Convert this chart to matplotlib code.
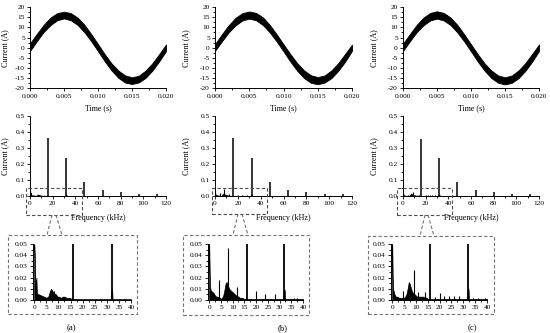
import numpy as np
import matplotlib
matplotlib.use("Agg")
import matplotlib.pyplot as plt
from matplotlib.patches import Rectangle
from matplotlib.lines import Line2D
from matplotlib.ticker import AutoMinorLocator, FormatStrFormatter

plt.rcParams['font.family'] = ['Liberation Serif', 'DejaVu Serif']
plt.rcParams['axes.unicode_minus'] = False

# time axis of the current waveform (s)
t = [0.000, 0.001, 0.002, 0.003, 0.004, 0.005, 0.006, 0.007, 0.008, 0.009, 0.010,
     0.011, 0.012, 0.013, 0.014, 0.015, 0.016, 0.017, 0.018, 0.019, 0.020]

# upper / lower edge of the ripple band (A)
wave_hi_a = [2.2, 6.8, 11.2, 14.8, 17.0, 17.7, 17.0, 14.8, 11.3, 6.7, 1.8,
             -3.2, -7.7, -11.2, -13.6, -14.5, -13.7, -11.2, -7.6, -3.1, 1.6]
wave_lo_a = [-1.6, 3.2, 7.7, 11.1, 13.5, 14.4, 13.5, 11.2, 7.6, 3.2, -1.7,
             -6.7, -11.2, -14.8, -17.1, -17.8, -17.0, -14.8, -11.2, -6.7, -1.6]
wave_hi_b = [1.8, 6.6, 11.1, 14.7, 17.0, 17.8, 17.1, 14.9, 11.2, 6.6, 1.7,
             -3.1, -7.6, -11.1, -13.5, -14.4, -13.6, -11.1, -7.5, -3.0, 1.5]
wave_lo_b = [-1.5, 3.1, 7.6, 11.0, 13.4, 14.3, 13.5, 11.1, 7.5, 3.1, -1.8,
             -6.8, -11.3, -14.9, -17.2, -17.9, -17.1, -14.9, -11.3, -6.8, -1.5]
wave_hi_c = [2.0, 6.7, 11.2, 14.8, 17.1, 17.9, 17.1, 14.8, 11.2, 6.6, 1.7,
             -3.2, -7.7, -11.2, -13.6, -14.5, -13.6, -11.1, -7.5, -3.0, 1.6]
wave_lo_c = [-1.6, 3.1, 7.6, 11.0, 13.4, 14.3, 13.4, 11.1, 7.5, 3.1, -1.8,
             -6.8, -11.3, -14.9, -17.2, -18.0, -17.2, -14.9, -11.3, -6.8, -1.6]

# switching harmonics (kHz, A)
harm_f = [16, 32, 48, 64, 80, 96, 112]
harm_a = [0.360, 0.235, 0.085, 0.035, 0.022, 0.013, 0.010]
harm_b = [0.360, 0.237, 0.087, 0.038, 0.024, 0.013, 0.010]
harm_c = [0.355, 0.235, 0.085, 0.037, 0.022, 0.014, 0.010]

# low-frequency noise envelope (kHz, A)
env_f_a = [0, 0.2, 0.4, 0.6, 0.9, 1.1, 1.5, 2, 3, 4, 5, 5.8, 6.4, 6.9, 7.3, 7.8, 8.3, 9,
           9.6, 10.2, 11, 11.8, 12.5, 13.3, 14.5, 15.5, 17, 20, 25, 30, 31.6, 31.8,
           32.2, 32.4, 35, 40]
env_a_a = [0.05, 0.042, 0.02, 0.012, 0.02, 0.007, 0.005, 0.005, 0.004, 0.003, 0.002,
           0.003, 0.007, 0.010, 0.009, 0.007, 0.006, 0.005, 0.003, 0.003, 0.002, 0.003,
           0.003, 0.002, 0.002, 0.001, 0.001, 0.0008, 0.0008, 0.0008, 0.0008, 0.009,
           0.009, 0.0008, 0.0008, 0.0008]
env_f_b = [0, 0.2, 0.4, 0.7, 1, 1.5, 2, 2.5, 3, 3.5, 4.5, 5, 5.5, 6, 6.5, 7, 7.5, 8.5,
           9, 9.5, 10, 10.5, 11, 11.5, 12.5, 13, 14, 15, 17, 20, 25, 30, 31.6, 31.8,
           32.2, 32.4, 35, 40]
env_a_b = [0.05, 0.027, 0.012, 0.008, 0.008, 0.007, 0.006, 0.004, 0.003, 0.003, 0.002,
           0.001, 0.002, 0.004, 0.009, 0.015, 0.016, 0.010, 0.009, 0.008, 0.007, 0.006,
           0.005, 0.004, 0.003, 0.002, 0.002, 0.001, 0.001, 0.001, 0.001, 0.001, 0.001,
           0.009, 0.009, 0.001, 0.001, 0.001]
env_f_c = [0, 0.2, 0.4, 0.7, 1, 1.5, 2, 3, 4, 5, 5.5, 6, 6.5, 7, 7.5, 8, 8.5, 9.5, 10,
           10.5, 11.5, 12, 13, 14.5, 15, 17, 20, 25, 30, 31.6, 31.8, 32.2, 32.4, 35, 40]
env_a_c = [0.05, 0.022, 0.010, 0.007, 0.005, 0.003, 0.003, 0.002, 0.002, 0.002, 0.003,
           0.005, 0.010, 0.016, 0.014, 0.010, 0.007, 0.005, 0.004, 0.003, 0.003, 0.003,
           0.003, 0.002, 0.001, 0.001, 0.001, 0.001, 0.001, 0.001, 0.010, 0.010, 0.001,
           0.001, 0.001]

# isolated small peaks (kHz, A)
peak_f_a = [8]
peak_a_a = [0.008]
peak_f_b = [4, 8, 12, 20, 24, 28, 36, 37.5]
peak_a_b = [0.018, 0.046, 0.012, 0.008, 0.005, 0.005, 0.002, 0.002]
peak_f_c = [4.5, 9, 11, 14, 18, 20, 22, 24, 26, 28, 34, 36, 39]
peak_a_c = [0.008, 0.027, 0.007, 0.007, 0.003, 0.006, 0.004, 0.004, 0.004, 0.004,
            0.002, 0.002, 0.002]

W, H = 550.0, 333.0
fig = plt.figure(figsize=(5.5, 3.33), dpi=100)


def axes_px(x0, x1, ytop, ybot):
    return fig.add_axes([x0 / W, 1 - ybot / H, (x1 - x0) / W, (ybot - ytop) / H])


def style(ax):
    for s in ['top', 'right']:
        ax.spines[s].set_visible(False)
    for s in ['left', 'bottom']:
        ax.spines[s].set_linewidth(0.7)
    ax.tick_params(which='both', direction='out', labelsize=5.3, width=0.6, length=2.2, pad=1.5)
    ax.tick_params(which='minor', length=1.3)
    ax.xaxis.set_minor_locator(AutoMinorLocator(2))
    ax.yaxis.set_minor_locator(AutoMinorLocator(2))


def dash_box(x0, y0, x1, y1, color='0.45'):
    fig.add_artist(Rectangle((x0 / W, 1 - y1 / H), (x1 - x0) / W, (y1 - y0) / H,
                             transform=fig.transFigure, fill=False, ec=color,
                             lw=0.8, ls=(0, (3, 2))))


def dash_line(xs, ys, color='0.45'):
    fig.add_artist(Line2D([x / W for x in xs], [1 - y / H for y in ys],
                          transform=fig.transFigure, color=color, lw=0.8, ls=(0, (3, 2))))


panels = [
    dict(x=(30, 166), ylx=-0.15, hi=wave_hi_a, lo=wave_lo_a, harm=harm_a,
         ef=env_f_a, ea=env_a_a, pf=peak_f_a, pa=peak_a_a,
         ins=(33, 131), box=(8, 235, 137, 314), rect=(26, 188, 82, 215),
         conn=((52, 56), (47, 62), 215, 235), lab=(71, "(a)")),
    dict(x=(215, 352), ylx=-0.18, hi=wave_hi_b, lo=wave_lo_b, harm=harm_b,
         ef=env_f_b, ea=env_a_b, pf=peak_f_b, pa=peak_a_b,
         ins=(208, 303), box=(183, 235, 309, 315), rect=(212, 188, 267, 214),
         conn=((238, 242), (233, 248), 214, 235), lab=(283, "(b)")),
    dict(x=(403, 539), ylx=-0.18, hi=wave_hi_c, lo=wave_lo_c, harm=harm_c,
         ef=env_f_c, ea=env_a_c, pf=peak_f_c, pa=peak_a_c,
         ins=(391, 487), box=(368, 236, 494, 314), rect=(397, 188, 452, 215),
         conn=((425, 428), (420, 434), 215, 236), lab=(472, "(c)")),
]

for p in panels:
    # current waveform
    ax = axes_px(p['x'][0], p['x'][1], 7, 88.5)
    ax.fill_between(t, p['lo'], p['hi'], color='black', lw=0.6, ec='black')
    ax.set_xlim(0, 0.02)
    ax.set_ylim(-20, 20)
    ax.set_xticks([0, 0.005, 0.01, 0.015, 0.02])
    ax.xaxis.set_major_formatter(FormatStrFormatter('%.3f'))
    ax.set_yticks(range(-20, 21, 5))
    style(ax)
    ax.set_xlabel("Time (s)", fontsize=5.8)
    ax.set_ylabel("Current (A)", fontsize=5.8)
    ax.xaxis.set_label_coords(0.5, -0.19)
    ax.yaxis.set_label_coords(p['ylx'], 0.5)

    # full spectrum
    ax = axes_px(p['x'][0], p['x'][1], 116, 196)
    ax.fill_between(p['ef'], 0, p['ea'], color='black', lw=0.4)
    ax.vlines(p['pf'], 0, p['pa'], color='black', lw=0.8)
    ax.vlines(harm_f, 0, p['harm'], color='black', lw=1.1)
    ax.set_xlim(0, 120)
    ax.set_ylim(0, 0.5)
    ax.set_xticks(range(0, 121, 20))
    ax.set_yticks([0, 0.1, 0.2, 0.3, 0.4, 0.5])
    ax.yaxis.set_major_formatter(FormatStrFormatter('%.1f'))
    style(ax)
    ax.set_xlabel("Frequency (kHz)", fontsize=5.8)
    ax.set_ylabel("Current (A)", fontsize=5.8)
    ax.xaxis.set_label_coords(0.5, -0.225)
    ax.yaxis.set_label_coords(p['ylx'], 0.5)

    # zoomed low-frequency part
    ax = axes_px(p['ins'][0], p['ins'][1], 244, 300)
    ax.fill_between(p['ef'], 0, p['ea'], color='black', lw=0.5)
    ax.vlines(p['pf'], 0, p['pa'], color='black', lw=0.8)
    ax.vlines(harm_f, 0, p['harm'], color='black', lw=1.3)
    ax.set_xlim(-0.5, 40)
    ax.set_ylim(0, 0.05)
    ax.set_xticks(range(0, 41, 5))
    ax.set_yticks([0, 0.01, 0.02, 0.03, 0.04, 0.05])
    ax.yaxis.set_major_formatter(FormatStrFormatter('%.2f'))
    style(ax)

    dash_box(*p['box'])
    dash_box(*p['rect'], color='0.3')
    (a0, a1), (b0, b1), y0, y1 = p['conn']
    dash_line([a0, b0], [y0, y1])
    dash_line([a1, b1], [y0, y1])
    fig.text(p['lab'][0] / W, 1 - 328 / H, p['lab'][1], fontsize=6.2, ha='center', va='center')

fig.savefig("out.png", dpi=100)
